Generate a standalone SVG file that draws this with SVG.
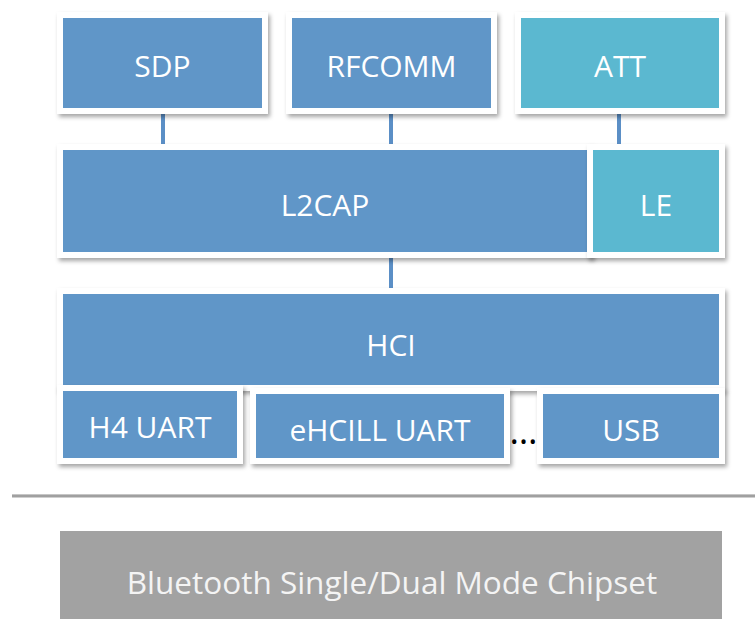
<svg xmlns="http://www.w3.org/2000/svg" width="755" height="619" viewBox="0 0 755 619">
  <defs>
    <filter id="shadow" x="-5%" y="-10%" width="115%" height="130%">
      <feDropShadow dx="2" dy="3" stdDeviation="2" flood-color="#000" flood-opacity="0.35"/>
    </filter>
  </defs>
  <style>
    .frame { fill: #ffffff; filter: url(#shadow); }
    .blue { fill: #6096c8; }
    .teal { fill: #5bb8d0; }
    .chip { fill: #a2a2a2; }
    .lbl { font-family: "Open Sans", "Noto Sans", "Liberation Sans", sans-serif; font-size: 30px; fill: #ffffff; text-anchor: middle; }
    .chiplbl { font-family: "Open Sans", "Noto Sans", "Liberation Sans", sans-serif; font-size: 31.5px; fill: #f4f4f4; text-anchor: middle; }
    .link { stroke: #5b8fc6; stroke-width: 4; fill: none; }
  </style>
  <rect width="755" height="619" fill="#ffffff"/>

  <!-- connectors between layers -->
  <g id="connectors">
    <line class="link" x1="163" y1="112" x2="163" y2="146"/>
    <line class="link" x1="391" y1="112" x2="391" y2="146"/>
    <line class="link" x1="619" y1="112" x2="619" y2="146"/>
    <line class="link" x1="391" y1="256" x2="391" y2="290"/>
  </g>

  <g id="sdp">
    <rect class="frame" x="57" y="12" width="211" height="102"/>
    <rect class="blue" x="63" y="18" width="199" height="90"/>
    <text class="lbl" x="162.5" y="77">SDP</text>
  </g>
  <g id="rfcomm">
    <rect class="frame" x="286" y="12" width="211" height="102"/>
    <rect class="blue" x="292" y="18" width="199" height="90"/>
    <text class="lbl" x="391.5" y="77">RFCOMM</text>
  </g>
  <g id="att">
    <rect class="frame" x="515" y="12" width="210" height="102"/>
    <rect class="teal" x="521" y="18" width="198" height="90"/>
    <text class="lbl" x="620" y="77">ATT</text>
  </g>

  <g id="l2cap">
    <rect class="frame" x="57" y="144" width="536" height="114"/>
    <rect class="blue" x="63" y="150" width="530" height="102"/>
    <text class="lbl" x="325" y="216">L2CAP</text>
  </g>
  <g id="le">
    <rect class="frame" x="587" y="144" width="138" height="114"/>
    <rect class="teal" x="593" y="150" width="126" height="102"/>
    <text class="lbl" x="656" y="216">LE</text>
  </g>

  <g id="hci">
    <rect class="frame" x="57" y="288" width="668" height="103"/>
    <rect class="blue" x="63" y="294" width="656" height="91"/>
    <text class="lbl" x="391" y="356">HCI</text>
  </g>
  <g id="h4-uart">
    <rect class="frame" x="57" y="385" width="186" height="79"/>
    <rect class="blue" x="63" y="391" width="174" height="67"/>
    <text class="lbl" x="150" y="438">H4 UART</text>
  </g>
  <g id="ehcill-uart">
    <rect class="frame" x="250" y="388" width="260" height="76"/>
    <rect class="blue" x="256" y="394" width="248" height="64"/>
    <text class="lbl" x="380" y="441">eHCILL UART</text>
  </g>
  <g id="more">
    <text x="523.5" y="444" font-family="Open Sans, sans-serif" font-size="36" fill="#000000" text-anchor="middle">…</text>
  </g>
  <g id="usb">
    <rect class="frame" x="537" y="388" width="188" height="76"/>
    <rect class="blue" x="543" y="394" width="176" height="64"/>
    <text class="lbl" x="631" y="441">USB</text>
  </g>

  <!-- host / controller boundary -->
  <g id="boundary">
    <line x1="12" y1="494.5" x2="755" y2="494.5" stroke="#ededed" stroke-width="1"/>
    <line x1="12" y1="496" x2="755" y2="496" stroke="#a0a0a0" stroke-width="3"/>
  </g>

  <g id="chipset">
    <rect class="chip" x="60" y="531" width="662" height="88"/>
    <text class="chiplbl" x="392" y="594">Bluetooth Single/Dual Mode Chipset</text>
  </g>
</svg>
